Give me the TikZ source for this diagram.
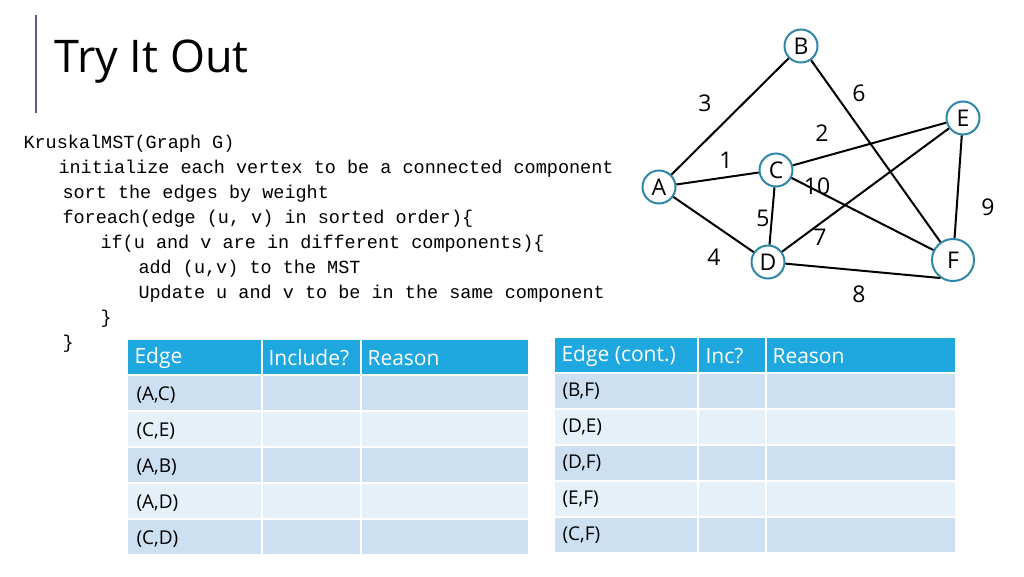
\documentclass[tikz,border=0pt]{standalone}
\usepackage{fontspec}
\setmainfont{Open Sans}
\setmonofont{Liberation Mono}
\definecolor{ringblue}{HTML}{2E86A8}
\definecolor{headblue}{HTML}{1FA8E0}
\definecolor{rowdark}{HTML}{CCE0F1}
\definecolor{rowlight}{HTML}{E6F0F9}
\definecolor{barcol}{HTML}{5B5B8C}

\begin{document}
\begin{tikzpicture}[x=1pt,y=-1pt,
  vert/.style={circle,draw=ringblue,line width=2pt,fill=white,inner sep=0pt,minimum size=33pt,font=\fontsize{23}{23}\selectfont},
  wt/.style={font=\fontsize{23}{23}\selectfont},
  codeline/.style={anchor=west,font=\ttfamily\fontsize{18.5}{18.5}\selectfont},
  cell/.style={anchor=west,font=\fontsize{19}{19}\selectfont},
  head/.style={anchor=west,text=white,font=\fontsize{21}{21}\selectfont},
  edge line/.style={line width=2pt}]
  \useasboundingbox (0,0) rectangle (1024,576);

  % title
  \draw[barcol,line width=1.2pt] (36,15) -- (36,113);
  \node[anchor=west,font=\fontsize{45}{45}\selectfont] (title) at (51,62) {Try It Out};

  % pseudocode
  \node[codeline] (c1) at (20,144) {KruskalMST(Graph G)};
  \node[codeline] (c2) at (55,169) {initialize each vertex to be a connected component};
  \node[codeline] (c3) at (59,194) {sort the edges by weight};
  \node[codeline] (c4) at (59,219) {foreach(edge (u, v) in sorted order)\{};
  \node[codeline] (c5) at (97,244) {if(u and v are in different components)\{};
  \node[codeline] (c6) at (135,269) {add (u,v) to the MST};
  \node[codeline] (c7) at (135,294) {Update u and v to be in the same component};
  \node[codeline] (c8) at (97,319) {\}};
  \node[codeline] (c9) at (59,344) {\}};

  % graph
  \node[vert] (A) at (659,187) {A};
  \node[vert] (B) at (801,46) {B};
  \node[vert] (C) at (776,170) {C};
  \node[vert] (D) at (768,262) {D};
  \node[vert] (E) at (963,118) {E};
  \node[vert,minimum size=42pt] (F) at (953,260) {F};
  \draw[edge line] (A) -- (B);
  \draw[edge line] (A) -- (C);
  \draw[edge line] (A) -- (D);
  \draw[edge line] (C) -- (E);
  \draw[edge line] (C) -- (D);
  \draw[edge line] (C) -- (F);
  \draw[edge line] (B) -- (F.125);
  \draw[edge line] (D) -- (E);
  \draw[edge line] (D) -- (F.235);
  \draw[edge line] (E) -- (F);
  \node[wt] (w3) at (705,103) {3};
  \node[wt] (w6) at (859,93) {6};
  \node[wt] (w2) at (822,133) {2};
  \node[wt] (w1) at (726,160) {1};
  \node[wt] (w10) at (817,186) {10};
  \node[wt] (w9) at (988,207) {9};
  \node[wt] (w5) at (763,218) {5};
  \node[wt] (w7) at (820,237) {7};
  \node[wt] (w4) at (714,257) {4};
  \node[wt] (w8) at (859,294) {8};

  % left table
  \fill[headblue] (128,340) rectangle (528,374);
  \foreach \y/\t [count=\i] in {376/{(A,C)},412/{(C,E)},448/{(A,B)},484/{(A,D)},520/{(C,D)}} {
    \ifodd\i \def\rc{rowdark}\else\def\rc{rowlight}\fi
    \fill[\rc] (128,\y) rectangle (528,\y+34);
    \node[cell] (l\i) at (133,\y+19) {\t};
  }
  \draw[white,line width=2pt] (262,340) -- (262,554) (361,340) -- (361,554);
  \node[head] (h1) at (131,358) {Edge};
  \node[head] (h2) at (265,358) {Include?};
  \node[head] (h3) at (364,358) {Reason};

  % right table
  \fill[headblue] (555,338) rectangle (955,372);
  \foreach \y/\t [count=\i] in {374/{(B,F)},410/{(D,E)},446/{(D,F)},482/{(E,F)},518/{(C,F)}} {
    \ifodd\i \def\rc{rowdark}\else\def\rc{rowlight}\fi
    \fill[\rc] (555,\y) rectangle (955,\y+34);
    \node[cell] (r\i) at (559,\y+17) {\t};
  }
  \draw[white,line width=2pt] (698,338) -- (698,552) (766,338) -- (766,552);
  \node[head] (k1) at (558,356) {Edge (cont.)};
  \node[head] (k2) at (702,356) {Inc?};
  \node[head] (k3) at (769,356) {Reason};
\end{tikzpicture}
\end{document}
